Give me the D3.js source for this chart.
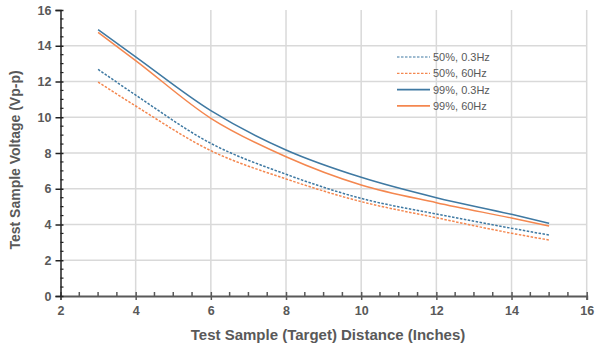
<!DOCTYPE html>
<html><head><meta charset="utf-8">
<script src="https://cdn.jsdelivr.net/npm/d3@7"></script>
<style>body{margin:0;background:#fff}svg{display:block}text{font-family:"Liberation Sans",Arial,sans-serif}</style>
</head><body>
<script>
const distances = [3, 4, 6, 8, 10, 12, 14, 15];
const v50_03 = [12.68, 11.24, 8.54, 6.81, 5.46, 4.59, 3.79, 3.41];
const v50_60 = [11.97, 10.63, 8.13, 6.55, 5.28, 4.38, 3.51, 3.13];
const v99_03 = [14.9, 13.38, 10.37, 8.17, 6.64, 5.5, 4.57, 4.07];
const v99_60 = [14.75, 13.17, 9.94, 7.79, 6.21, 5.22, 4.36, 3.92];
const seriesNames = ["50%, 0.3Hz", "50%, 60Hz", "99%, 0.3Hz", "99%, 60Hz"];
const xTicks = [2, 4, 6, 8, 10, 12, 14, 16];
const yTicks = [0, 2, 4, 6, 8, 10, 12, 14, 16];

const W = 600, H = 347;
const BLUE = "#3f79a2", ORANGE = "#f4874f", GRAY = "#595959";
const series = [
  {name: seriesNames[0], vals: v50_03, color: BLUE, dash: "2.5,1.5"},
  {name: seriesNames[1], vals: v50_60, color: ORANGE, dash: "2.5,1.5"},
  {name: seriesNames[2], vals: v99_03, color: BLUE, dash: null},
  {name: seriesNames[3], vals: v99_60, color: ORANGE, dash: null}
];

const svg = d3.select("body").append("svg").attr("width", W).attr("height", H);
const x = d3.scaleLinear().domain([2, 16]).range([60.5, 586.7]);
const y = d3.scaleLinear().domain([0, 16]).range([296, 10]);

// gridlines
const g = svg.append("g");
g.selectAll(".vg").data(xTicks.slice(1)).join("line")
  .attr("x1", d => x(d)).attr("x2", d => x(d)).attr("y1", y(16)).attr("y2", y(0))
  .attr("stroke", "#d9d9d9").attr("stroke-width", 1.5);
g.selectAll(".hg").data(yTicks.slice(1, -1)).join("line")
  .attr("x1", x(2)).attr("x2", x(16)).attr("y1", d => y(d)).attr("y2", d => y(d))
  .attr("stroke", "#d9d9d9").attr("stroke-width", 1.5);

// lines
const line = d3.line().x((d, i) => x(distances[i])).y(d => y(d)).curve(d3.curveMonotoneX);
series.forEach(s => {
  svg.append("path").attr("d", line(s.vals)).attr("fill", "none")
    .attr("stroke", s.color).attr("stroke-width", 1.5)
    .attr("stroke-dasharray", s.dash);
});

// axes
const minorX = d3.range(2, 16.01, 0.5).filter(v => v % 2 !== 0);
const minorY = d3.range(0, 16.01, 0.5).filter(v => v % 2 !== 0);
const xAxis = svg.append("g").attr("transform", `translate(0,${y(0)})`)
  .call(d3.axisBottom(x).tickValues(xTicks).tickSize(4).tickFormat(d3.format("d")));
xAxis.select(".domain").attr("stroke", GRAY).attr("stroke-width", 2);
xAxis.selectAll(".tick line").attr("stroke", GRAY).attr("stroke-width", 1.5).attr("y1", -4);
xAxis.selectAll(".tick text").attr("fill", GRAY).attr("font-size", 12.5).attr("font-weight", "bold").attr("dy", "0.95em");
xAxis.selectAll(".minor").data(minorX).join("line").attr("class", "minor")
  .attr("x1", d => x(d)).attr("x2", d => x(d)).attr("y1", -4).attr("y2", 0)
  .attr("stroke", GRAY).attr("stroke-width", 1.5);

const yAxis = svg.append("g").attr("transform", `translate(${x(2)},0)`)
  .call(d3.axisLeft(y).tickValues(yTicks).tickSize(5).tickFormat(d3.format("d")));
yAxis.select(".domain").attr("stroke", "#222").attr("stroke-width", 1.5);
yAxis.selectAll(".tick line").attr("stroke", "#222").attr("stroke-width", 1.5).attr("x2", -5).attr("x1", 3);
yAxis.selectAll(".tick text").attr("fill", GRAY).attr("font-size", 12.5).attr("font-weight", "bold").attr("x", -9);
yAxis.selectAll(".minor").data(minorY).join("line").attr("class", "minor")
  .attr("x1", 0).attr("x2", 3).attr("y1", d => y(d)).attr("y2", d => y(d))
  .attr("stroke", "#222").attr("stroke-width", 1.2);

// axis titles
svg.append("text").attr("x", 328).attr("y", 340).attr("text-anchor", "middle")
  .attr("fill", GRAY).attr("font-size", 15).attr("font-weight", "bold")
  .text("Test Sample (Target) Distance (Inches)");
svg.append("text").attr("transform", "translate(20,160) rotate(-90)").attr("text-anchor", "middle")
  .attr("fill", GRAY).attr("font-size", 14).attr("font-weight", "bold")
  .text("Test Sample Voltage (Vp-p)");

// legend
const leg = svg.append("g");
series.forEach((s, i) => {
  const yy = 57 + i * 16.3;
  leg.append("line").attr("x1", 397).attr("x2", 430).attr("y1", yy).attr("y2", yy)
    .attr("stroke", s.color).attr("stroke-width", s.dash ? 1.2 : 1.8).attr("stroke-dasharray", s.dash);
  leg.append("text").attr("x", 433).attr("y", yy + 4).attr("fill", GRAY).attr("font-size", 11).text(s.name);
});
</script>
</body></html>
